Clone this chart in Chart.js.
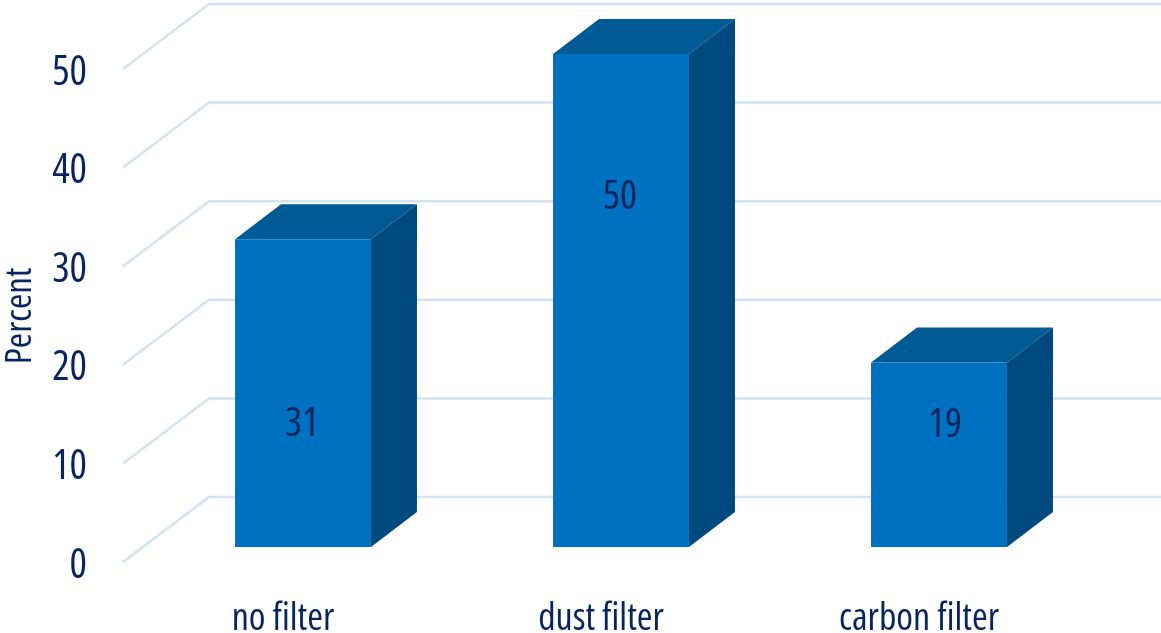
<!DOCTYPE html>
<html>
<head>
<meta charset="utf-8">
<title>Filter comparison</title>
<script src="https://cdn.jsdelivr.net/npm/chart.js@4/dist/chart.umd.min.js"></script>
<style>
  html, body { margin: 0; padding: 0; background: #fff; }
  #wrap { width: 1161px; height: 633px; }
</style>
</head>
<body>
<div id="wrap"><canvas id="chart"></canvas></div>
<script>
const categories = ["no filter", "dust filter", "carbon filter"];
// bar heights, the printed numbers are a bit rounder
const barValues = [31.2, 50, 18.7];
const valueLabels = ["31", "50", "19"];
const yTicks = [0, 10, 20, 30, 40, 50];
const axisTitle = "Percent";

const textColor = "#07255f";
const fontFamily = "'Open Sans', sans-serif";
// chart.js rejects this as a style but writes weight straight into the font string
const narrow = "extra-condensed";

// draws the wall and floor lines, plus the top and side faces of the bars
const box3d = {
  id: "box3d",
  beforeDatasetsDraw(chart) {
    const { ctx, scales } = chart;
    ctx.save();
    ctx.strokeStyle = "#d2e4f2";
    ctx.lineWidth = 2.5;
    yTicks.forEach((v) => {
      const y = scales.y.getPixelForValue(v);
      ctx.beginPath();
      ctx.moveTo(123, y + 15);
      ctx.lineTo(209, y - 50);
      ctx.lineTo(chart.width, y - 50);
      ctx.stroke();
    });
    ctx.restore();

    const dx = 46, dy = 35;
    chart.getDatasetMeta(0).data.forEach((bar) => {
      const left = bar.x - bar.width / 2;
      const right = bar.x + bar.width / 2;
      ctx.save();
      ctx.fillStyle = "#005a94";
      ctx.beginPath();
      ctx.moveTo(left, bar.y);
      ctx.lineTo(left + dx, bar.y - dy);
      ctx.lineTo(right + dx, bar.y - dy);
      ctx.lineTo(right, bar.y);
      ctx.closePath();
      ctx.fill();
      ctx.fillStyle = "#004a7f";
      ctx.beginPath();
      ctx.moveTo(right, bar.y);
      ctx.lineTo(right + dx, bar.y - dy);
      ctx.lineTo(right + dx, bar.base - dy);
      ctx.lineTo(right, bar.base);
      ctx.closePath();
      ctx.fill();
      ctx.restore();
    });
  },
  afterDatasetsDraw(chart) {
    const { ctx, scales } = chart;
    // the labels sit at odd spots inside the bars in the original
    const labelAt = [12.4, 35.4, 12.3];
    const labelShift = [-1, -1, 6];
    ctx.save();
    ctx.fillStyle = textColor;
    ctx.font = narrow + " 40px " + fontFamily;
    ctx.textAlign = "center";
    ctx.textBaseline = "middle";
    chart.getDatasetMeta(0).data.forEach((bar, i) => {
      ctx.fillText(valueLabels[i], bar.x + labelShift[i], scales.y.getPixelForValue(labelAt[i]));
    });
    // axis title sits lower than the scale title option would put it
    ctx.font = narrow + " 37px " + fontFamily;
    ctx.translate(20, 316);
    ctx.rotate(-Math.PI / 2);
    ctx.fillText(axisTitle, 0, 0);
    ctx.restore();
  },
};

new Chart(document.getElementById("chart"), {
  type: "bar",
  data: {
    labels: categories,
    datasets: [{
      data: barValues,
      backgroundColor: "#0070c0",
      barPercentage: 0.855,
      categoryPercentage: 0.5,
    }],
  },
  options: {
    responsive: true,
    maintainAspectRatio: false,
    animation: false,
    layout: { padding: { top: 54, right: 63, left: 0, bottom: 0 } },
    plugins: { legend: { display: false }, tooltip: { enabled: false } },
    scales: {
      x: {
        grid: { display: false },
        border: { display: false },
        afterFit(axis) { axis.height = 86; },
        ticks: {
          color: textColor,
          padding: 41,
          labelOffset: -20,
          font: { weight: narrow, family: fontFamily, size: 38 },
          maxRotation: 0,
        },
      },
      y: {
        min: 0,
        max: 50,
        afterBuildTicks(axis) { axis.ticks = yTicks.map((v) => ({ value: v })); },
        afterFit(axis) {
          axis.width = 144;
          axis.paddingTop = 0;
          axis.paddingBottom = 0;
        },
        grid: { display: false },
        border: { display: false },
        ticks: {
          color: textColor,
          padding: 49,
          labelOffset: 19,
          font: { weight: narrow, family: fontFamily, size: 41 },
        },
      },
    },
  },
  plugins: [box3d],
});
</script>
</body>
</html>
